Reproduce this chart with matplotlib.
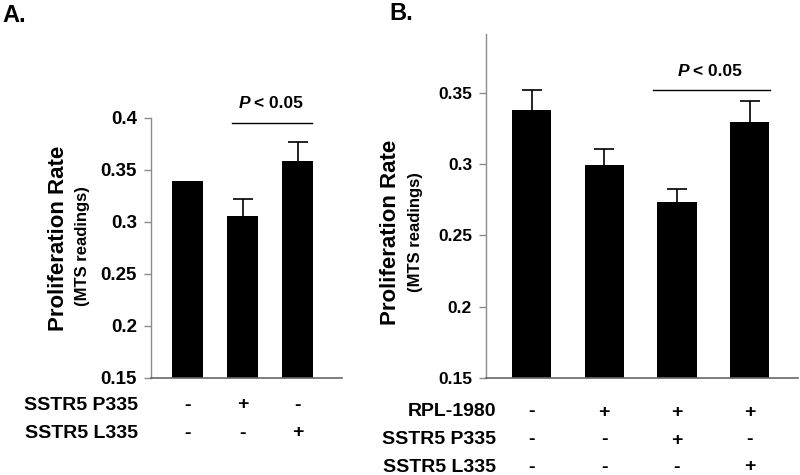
import numpy as np
import matplotlib
matplotlib.use("Agg")
import matplotlib.pyplot as plt

plt.rcParams['font.family'] = ['Liberation Sans', 'DejaVu Sans']
plt.rcParams['font.weight'] = 'bold'

# panel A
vals_a = [0.339, 0.306, 0.359]
err_a = [0.0, 0.016, 0.018]
rows_a = ["SSTR5 P335", "SSTR5 L335"]
signs_a = [["-", "+", "-"],
           ["-", "-", "+"]]
ticks_a = [0.15, 0.2, 0.25, 0.3, 0.35, 0.4]
ticklab_a = ["0.15", "0.2", "0.25", "0.3", "0.35", "0.4"]

# panel B
vals_b = [0.338, 0.299, 0.2735, 0.329]
err_b = [0.014, 0.0115, 0.009, 0.0154]
rows_b = ["RPL-1980", "SSTR5 P335", "SSTR5 L335"]
signs_b = [["-", "+", "+", "+"],
           ["-", "-", "+", "-"],
           ["-", "-", "-", "+"]]
ticks_b = [0.15, 0.2, 0.25, 0.3, 0.35]
ticklab_b = ["0.15", "0.2", "0.25", "0.3", "0.35"]

W, H = 800, 475
GRAY = '#8c8c8c'


def px(x, y):
    return x / W, 1 - y / H


def box(l, t, r, b):
    return [l / W, 1 - b / H, (r - l) / W, (b - t) / H]


def panel(ax, vals, err, ticks, ticklab, ylim, xlim, width, cap, tick_fs):
    x = np.arange(len(vals))
    v = np.array(vals)
    e = np.array(err)
    ax.bar(x, v, width=width, color='black', linewidth=0, antialiased=False, zorder=2)
    keep = e > 0
    # upper half only: stem from bar top + cap
    ax.vlines(x[keep], v[keep], v[keep] + e[keep], color='black', lw=1.2, zorder=1)
    ax.plot(x[keep], v[keep] + e[keep], ls='none', marker='_', markersize=cap * 2,
            markeredgewidth=1.2, color='black', zorder=3)
    ax.set_ylim(*ylim)
    ax.set_xlim(*xlim)
    ax.set_yticks(ticks)
    ax.set_yticklabels(ticklab, fontsize=tick_fs, fontweight='bold')
    ax.set_xticks([])
    for s in ['top', 'right']:
        ax.spines[s].set_visible(False)
    ax.spines['left'].set_color(GRAY)
    ax.spines['bottom'].set_color('#666666')
    ax.spines['left'].set_linewidth(1)
    ax.spines['bottom'].set_linewidth(1.2)
    ax.spines['bottom'].set_zorder(4)
    ax.tick_params(axis='y', direction='out', length=5, width=1, color=GRAY, pad=5)
    return x


fig = plt.figure(figsize=(8, 4.75), dpi=100)

# ---- A ----
ax_a = fig.add_axes(box(151, 118, 342, 378))
xa = panel(ax_a, vals_a, err_a, ticks_a, ticklab_a, (0.15, 0.4), (-0.66, 2.80), 0.56, 7, 13.5)
ax_a.plot([0.805, 2.25], [0.395, 0.395], color='black', lw=1, clip_on=False)
fig.text(*px(2, 16), "A.", fontsize=17, fontweight='bold', va='center', ha='left')
fig.text(*px(250, 104), "P", fontsize=12.5, fontweight='bold', style='italic', va='center', ha='right')
fig.text(*px(254, 104), "< 0.05", fontsize=12.5, fontweight='bold', va='center', ha='left')
fig.text(*px(59, 238), "Proliferation Rate", fontsize=16, fontweight='bold',
         rotation=90, va='center', ha='center')
fig.text(*px(83, 246), "(MTS readings)", fontsize=12, fontweight='bold',
         rotation=90, va='center', ha='center')
for i, lab in enumerate(rows_a):
    y = [405, 433][i]
    fig.text(*px(138, y), lab, fontsize=14, fontweight='bold', va='center', ha='right')
    for j, s in enumerate(signs_a[i]):
        ax_a.text(xa[j], 1 - (y - 118) / (378 - 118), s, transform=ax_a.get_xaxis_transform(),
                  fontsize=14, fontweight='bold', va='center', ha='center')

# ---- B ----
ax_b = fig.add_axes(box(486, 34, 798, 378))
xb = panel(ax_b, vals_b, err_b, ticks_b, ticklab_b, (0.15, 0.391), (-0.626, 3.666), 0.54, 7.5, 12.5)
ax_b.plot([1.67, 3.28], [0.352, 0.352], color='black', lw=1, clip_on=False)
fig.text(*px(389, 13), "B.", fontsize=17, fontweight='bold', va='center', ha='left')
fig.text(*px(689, 72), "P", fontsize=12.5, fontweight='bold', style='italic', va='center', ha='right')
fig.text(*px(693, 72), "< 0.05", fontsize=12.5, fontweight='bold', va='center', ha='left')
fig.text(*px(391, 232), "Proliferation Rate", fontsize=16, fontweight='bold',
         rotation=90, va='center', ha='center')
fig.text(*px(415, 232), "(MTS readings)", fontsize=12, fontweight='bold',
         rotation=90, va='center', ha='center')
for i, lab in enumerate(rows_b):
    y = [412, 440, 467][i]
    fig.text(*px(496, y), lab, fontsize=14, fontweight='bold', va='center', ha='right')
    for j, s in enumerate(signs_b[i]):
        ax_b.text(xb[j], 1 - (y - 34) / (378 - 34), s, transform=ax_b.get_xaxis_transform(),
                  fontsize=14, fontweight='bold', va='center', ha='center')

fig.savefig("out.png", dpi=100)
